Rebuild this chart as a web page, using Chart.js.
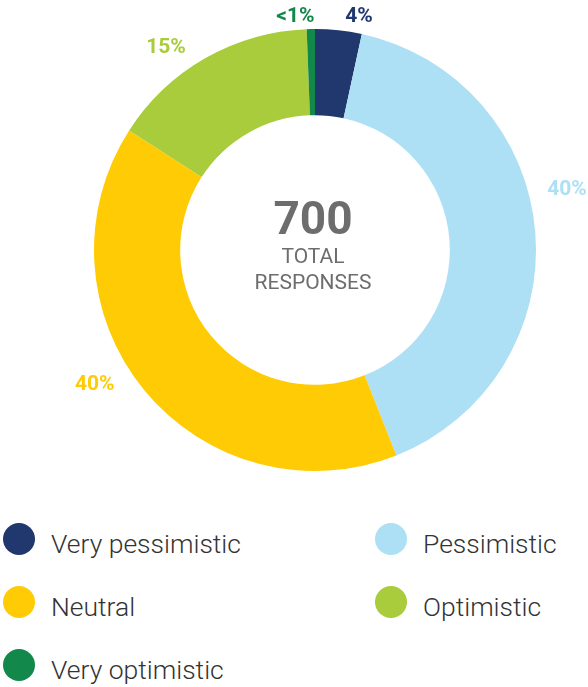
<!DOCTYPE html>
<html>
<head>
<meta charset="utf-8">
<script src="https://cdn.jsdelivr.net/npm/chart.js@4.4.1/dist/chart.umd.min.js"></script>
<style>
  html, body { margin: 0; padding: 0; background: #fff; }
  body { width: 588px; height: 687px; position: relative; overflow: hidden; font-family: Roboto, "Open Sans", sans-serif; }
  #wrap { position: absolute; left: 0; top: 0; width: 588px; height: 500px; }
  #center { position: absolute; left: 213px; top: 194px; width: 200px; text-align: center; color: #6d6d6d; pointer-events: none; }
  #center .big { font-weight: 700; font-size: 46px; line-height: 48px; }
  #center .small { font-weight: 400; font-size: 21px; line-height: 26px; margin-top: 1px; }
  #legend { position: absolute; left: 3px; top: 523px; display: grid; grid-template-columns: 372px auto; row-gap: 31px; }
  .item { display: flex; align-items: center; height: 32px; }
  .dot { width: 32px; height: 32px; border-radius: 50%; flex: none; }
  .txt { margin-left: 16px; font-weight: 300; font-size: 26.5px; color: #333; position: relative; top: 4px; white-space: nowrap; }
</style>
</head>
<body>
<div id="wrap"><canvas id="c"></canvas></div>
<div id="center"><div class="big" id="total"></div><div class="small">TOTAL<br>RESPONSES</div></div>
<div id="legend"></div>
<script>
const categories = ["Very pessimistic", "Pessimistic", "Neutral", "Optimistic", "Very optimistic"];
const shares = [3.4, 40.6, 40.1, 15.3, 0.6];
const shareLabels = ["4%", "40%", "40%", "15%", "<1%"];
const colors = ["#21386e", "#ade0f5", "#ffcb05", "#a8cc3b", "#12884b"];
const totalResponses = 700;

document.getElementById('total').textContent = totalResponses;

// label placement hints: [angle offset deg from slice middle, distance beyond outer radius]
const labelHints = [[4.6, 16], [-8.7, 38], [8, 37], [-6.7, 30], [-3.7, 13]];

const outsideLabels = {
  id: 'outsideLabels',
  afterDatasetsDraw(chart) {
    const ctx = chart.ctx;
    const meta = chart.getDatasetMeta(0);
    ctx.save();
    ctx.font = '700 21px Roboto, sans-serif';
    ctx.textAlign = 'center';
    ctx.textBaseline = 'middle';
    meta.data.forEach((arc, i) => {
      const p = arc.getProps(['x', 'y', 'startAngle', 'endAngle', 'outerRadius'], true);
      const mid = (p.startAngle + p.endAngle) / 2 + labelHints[i][0] * Math.PI / 180;
      const r = p.outerRadius + labelHints[i][1];
      ctx.fillStyle = colors[i];
      ctx.fillText(shareLabels[i], p.x + Math.cos(mid) * r, p.y + Math.sin(mid) * r);
    });
    ctx.restore();
  }
};

new Chart(document.getElementById('c'), {
  type: 'doughnut',
  data: {
    labels: categories,
    datasets: [{ data: shares, backgroundColor: colors, borderWidth: 0, hoverOffset: 0 }]
  },
  options: {
    responsive: true,
    maintainAspectRatio: false,
    animation: false,
    cutout: '61%',
    layout: { padding: { left: 94, right: 52, top: 28, bottom: 28 } },
    plugins: { legend: { display: false }, tooltip: { enabled: false } }
  },
  plugins: [outsideLabels]
});

const legend = document.getElementById('legend');
categories.forEach((c, i) => {
  const it = document.createElement('div');
  it.className = 'item';
  const d = document.createElement('span');
  d.className = 'dot';
  d.style.background = colors[i];
  const t = document.createElement('span');
  t.className = 'txt';
  t.textContent = c;
  it.appendChild(d); it.appendChild(t);
  legend.appendChild(it);
});
</script>
</body>
</html>
